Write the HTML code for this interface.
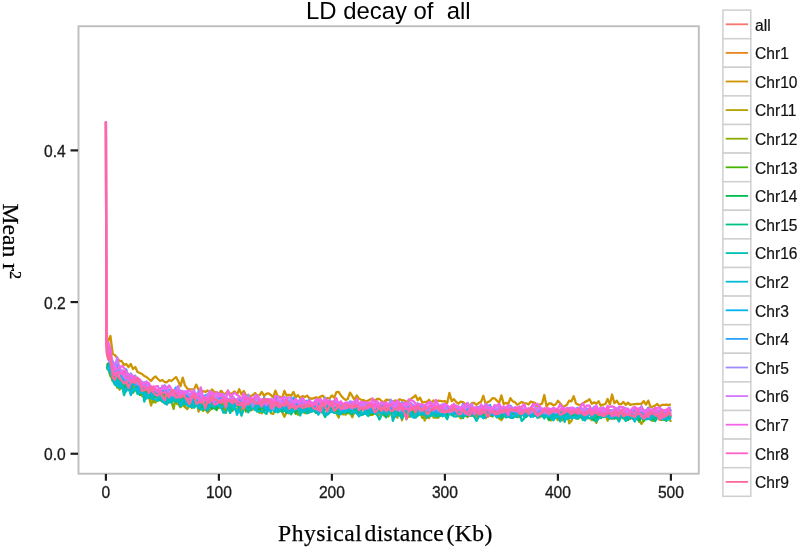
<!DOCTYPE html>
<html><head><meta charset="utf-8"><style>
html,body{margin:0;padding:0;background:#fff;}
body{width:800px;height:548px;overflow:hidden;}
svg{display:block;filter:blur(0.4px);}
.ax{font-family:"Liberation Sans",sans-serif;font-size:15.6px;fill:#1a1a1a;stroke:#1a1a1a;stroke-width:0.3px;}
.lg{font-family:"Liberation Sans",sans-serif;font-size:15.6px;fill:#111;stroke:#111;stroke-width:0.2px;}
.tk{stroke:#1e1e1e;stroke-width:2.2;}
.ttl{font-family:"Liberation Sans",sans-serif;font-size:23.9px;fill:#000;}
.st{font-family:"Liberation Serif",serif;font-size:23.6px;fill:#000;stroke:#000;stroke-width:0.25px;}
.dl polyline{fill:none;stroke-width:2.3;stroke-linejoin:round;}
</style></head><body>
<svg width="800" height="548" viewBox="0 0 800 548">
<rect x="0" y="0" width="800" height="548" fill="#fff"/>
<text x="306" y="19.3" class="ttl">LD decay of&#160; all</text>
<g class="dl">
<polyline points="106.8,357.1 108.2,355.2 110.4,360.5 112.7,364.6 114.9,368.7 117.2,369.5 119.5,373.5 121.7,377.4 124.0,375.0 126.2,375.9 128.5,379.1 130.8,379.9 133.0,380.5 135.3,379.8 137.5,382.1 139.8,384.3 142.1,382.9 144.3,385.7 146.6,385.0 148.8,387.2 151.1,387.3 153.4,389.8 155.6,388.7 157.9,391.2 160.1,391.3 162.4,391.1 164.7,388.1 166.9,391.1 169.2,392.1 171.4,392.6 173.7,390.4 176.0,392.3 178.2,392.0 180.5,392.7 182.7,395.8 185.0,393.5 187.3,395.0 189.5,396.8 191.8,395.0 194.0,396.0 196.3,396.7 198.6,397.0 200.8,395.4 203.1,397.6 205.3,399.7 207.6,395.5 209.9,399.4 212.1,398.4 214.4,397.5 216.6,401.6 218.9,399.9 221.2,397.2 223.4,399.3 225.7,400.1 227.9,399.2 230.2,400.6 232.5,399.7 234.7,400.9 237.0,402.1 239.2,399.3 241.5,400.7 243.8,399.9 246.0,400.9 248.3,399.2 250.5,400.2 252.8,400.9 255.1,402.5 257.3,402.9 259.6,399.8 261.8,400.6 264.1,402.6 266.4,399.3 268.6,401.4 270.9,402.0 273.1,403.9 275.4,403.3 277.7,402.1 279.9,402.1 282.2,402.4 284.4,404.7 286.7,402.3 289.0,402.6 291.2,403.5 293.5,403.0 295.7,403.0 298.0,401.9 300.3,403.4 302.5,402.9 304.8,405.1 307.0,404.5 309.3,403.7 311.6,404.7 313.8,403.5 316.1,405.3 318.3,404.1 320.6,404.9 322.9,402.6 325.1,404.7 327.4,402.2 329.6,401.9 331.9,404.1 334.2,403.5 336.4,404.9 338.7,407.5 340.9,403.8 343.2,404.1 345.5,405.2 347.7,405.6 350.0,404.9 352.2,404.9 354.5,406.1 356.8,405.9 359.0,404.1 361.3,405.3 363.5,405.5 365.8,404.2 368.1,405.9 370.3,404.6 372.6,406.9 374.8,406.0 377.1,406.0 379.4,405.2 381.6,405.9 383.9,403.7 386.1,404.9 388.4,406.8 390.7,403.8 392.9,407.5 395.2,404.5 397.4,407.6 399.7,405.7 402.0,407.8 404.2,407.1 406.5,405.2 408.7,408.6 411.0,408.9 413.3,407.2 415.5,407.0 417.8,407.2 420.0,406.3 422.3,408.8 424.6,407.0 426.8,407.6 429.1,406.8 431.3,407.1 433.6,406.4 435.9,409.4 438.1,407.9 440.4,409.2 442.6,408.2 444.9,407.5 447.2,408.0 449.4,407.8 451.7,408.5 453.9,408.1 456.2,408.3 458.5,407.2 460.7,407.9 463.0,410.7 465.2,408.2 467.5,407.8 469.8,409.4 472.0,410.7 474.3,407.6 476.5,409.0 478.8,408.6 481.1,407.4 483.3,410.2 485.6,409.4 487.8,409.6 490.1,408.7 492.4,410.1 494.6,409.0 496.9,409.5 499.1,408.5 501.4,408.5 503.7,411.2 505.9,409.3 508.2,410.2 510.4,409.9 512.7,409.5 515.0,409.5 517.2,410.8 519.5,409.8 521.7,410.0 524.0,410.3 526.3,411.5 528.5,411.0 530.8,410.8 533.0,409.8 535.3,409.1 537.6,411.5 539.8,411.5 542.1,410.5 544.3,411.2 546.6,411.5 548.9,411.5 551.1,411.7 553.4,410.4 555.6,412.3 557.9,409.7 560.2,411.8 562.4,411.5 564.7,411.9 566.9,412.9 569.2,412.5 571.5,410.0 573.7,409.6 576.0,412.0 578.2,410.3 580.5,411.3 582.8,412.2 585.0,409.8 587.3,409.3 589.5,411.7 591.8,411.5 594.1,411.3 596.3,411.6 598.6,410.7 600.8,410.1 603.1,411.5 605.4,410.7 607.6,410.1 609.9,412.3 612.1,411.7 614.4,412.3 616.7,410.8 618.9,411.2 621.2,410.9 623.4,411.0 625.7,412.2 628.0,411.2 630.2,412.5 632.5,412.5 634.7,414.3 637.0,410.7 639.3,413.2 641.5,412.2 643.8,412.3 646.0,410.7 648.3,411.8 650.6,413.2 652.8,412.3 655.1,412.5 657.3,412.1 659.6,413.7 661.9,412.4 664.1,410.0 666.4,411.7 668.6,410.3 670.9,408.9" stroke="#F8766D"/>
<polyline points="106.8,367.8 108.2,364.5 110.4,368.9 112.7,375.3 114.9,380.8 117.2,380.2 119.5,380.8 121.7,381.1 124.0,382.0 126.2,385.3 128.5,385.3 130.8,384.9 133.0,381.2 135.3,387.5 137.5,383.8 139.8,391.2 142.1,384.7 144.3,389.9 146.6,391.7 148.8,389.4 151.1,398.6 153.4,398.3 155.6,393.2 157.9,397.1 160.1,396.3 162.4,387.8 164.7,396.5 166.9,395.8 169.2,396.5 171.4,393.2 173.7,395.9 176.0,396.6 178.2,401.4 180.5,399.2 182.7,398.5 185.0,403.9 187.3,397.6 189.5,398.5 191.8,394.2 194.0,405.8 196.3,404.2 198.6,404.5 200.8,404.0 203.1,402.3 205.3,402.8 207.6,401.5 209.9,401.8 212.1,402.8 214.4,407.5 216.6,404.7 218.9,402.9 221.2,401.5 223.4,401.5 225.7,408.3 227.9,405.2 230.2,404.0 232.5,402.9 234.7,400.9 237.0,404.0 239.2,406.8 241.5,403.4 243.8,404.0 246.0,404.1 248.3,405.1 250.5,400.7 252.8,404.5 255.1,402.9 257.3,407.6 259.6,403.4 261.8,407.0 264.1,409.5 266.4,405.0 268.6,404.4 270.9,406.4 273.1,406.1 275.4,403.8 277.7,407.4 279.9,411.3 282.2,405.8 284.4,406.0 286.7,404.0 289.0,407.5 291.2,403.6 293.5,404.0 295.7,410.1 298.0,404.7 300.3,409.8 302.5,411.0 304.8,407.9 307.0,408.7 309.3,412.4 311.6,406.9 313.8,405.9 316.1,404.0 318.3,407.7 320.6,411.6 322.9,410.3 325.1,405.3 327.4,405.6 329.6,406.6 331.9,408.8 334.2,407.5 336.4,408.7 338.7,409.0 340.9,407.4 343.2,408.2 345.5,408.9 347.7,408.2 350.0,409.9 352.2,413.7 354.5,410.2 356.8,408.8 359.0,404.0 361.3,409.9 363.5,403.4 365.8,404.9 368.1,411.4 370.3,411.0 372.6,408.6 374.8,404.3 377.1,408.2 379.4,407.4 381.6,411.1 383.9,415.6 386.1,410.1 388.4,407.6 390.7,406.6 392.9,409.7 395.2,409.4 397.4,407.1 399.7,410.4 402.0,407.3 404.2,413.0 406.5,412.9 408.7,413.0 411.0,409.3 413.3,411.8 415.5,410.3 417.8,409.8 420.0,410.0 422.3,407.9 424.6,407.7 426.8,412.8 429.1,410.7 431.3,411.6 433.6,413.4 435.9,407.7 438.1,409.8 440.4,411.8 442.6,412.4 444.9,410.9 447.2,413.7 449.4,412.2 451.7,409.5 453.9,410.1 456.2,413.5 458.5,412.9 460.7,408.6 463.0,414.7 465.2,413.3 467.5,414.7 469.8,411.7 472.0,411.9 474.3,410.6 476.5,416.9 478.8,412.3 481.1,415.4 483.3,411.5 485.6,412.9 487.8,409.6 490.1,412.0 492.4,414.5 494.6,410.4 496.9,414.8 499.1,413.4 501.4,410.8 503.7,411.8 505.9,411.9 508.2,412.7 510.4,411.8 512.7,411.2 515.0,412.3 517.2,410.8 519.5,410.3 521.7,412.9 524.0,414.8 526.3,409.7 528.5,413.0 530.8,411.6 533.0,410.9 535.3,414.9 537.6,411.9 539.8,416.4 542.1,411.4 544.3,414.0 546.6,412.6 548.9,411.4 551.1,414.5 553.4,412.8 555.6,414.6 557.9,413.1 560.2,410.7 562.4,413.0 564.7,413.4 566.9,415.6 569.2,411.1 571.5,413.2 573.7,409.1 576.0,415.0 578.2,410.8 580.5,409.1 582.8,413.4 585.0,416.3 587.3,410.1 589.5,411.2 591.8,412.1 594.1,411.3 596.3,414.9 598.6,412.2 600.8,412.4 603.1,415.5 605.4,412.5 607.6,415.3 609.9,412.2 612.1,411.7 614.4,410.4 616.7,418.7 618.9,413.9 621.2,415.2 623.4,414.7 625.7,415.2 628.0,415.0 630.2,419.1 632.5,412.8 634.7,411.7 637.0,413.0 639.3,412.4 641.5,416.8 643.8,417.0 646.0,413.4 648.3,412.5 650.6,414.7 652.8,418.3 655.1,409.7 657.3,416.6 659.6,413.3 661.9,417.7 664.1,413.4 666.4,415.0 668.6,412.6 670.9,413.7" stroke="#E7851E"/>
<polyline points="106.8,343.0 108.2,341.0 110.4,336.0 112.7,354.0 114.9,355.0 117.2,358.0 119.5,361.0 121.7,361.0 124.0,365.0 126.2,364.0 128.5,367.0 130.8,364.0 133.0,369.0 135.3,367.0 137.5,372.0 139.8,373.0 142.1,374.0 144.3,376.0 146.6,377.0 148.8,379.0 151.1,381.0 153.4,378.0 155.6,376.5 157.9,379.0 160.1,381.0 162.4,380.0 164.7,382.0 166.9,382.3 169.2,380.0 171.4,381.0 173.7,379.0 176.0,377.0 178.2,381.0 180.5,386.2 182.7,377.6 185.0,385.4 187.3,388.7 189.5,389.3 191.8,389.4 194.0,389.6 196.3,384.6 198.6,389.8 200.8,391.1 203.1,391.0 205.3,392.0 207.6,390.5 209.9,392.5 212.1,389.4 214.4,392.4 216.6,392.1 218.9,393.6 221.2,390.8 223.4,393.8 225.7,393.6 227.9,390.9 230.2,394.1 232.5,392.9 234.7,391.4 237.0,394.8 239.2,389.1 241.5,394.5 243.8,390.9 246.0,395.2 248.3,396.2 250.5,396.1 252.8,395.2 255.1,393.0 257.3,396.3 259.6,395.0 261.8,391.9 264.1,396.0 266.4,393.6 268.6,393.3 270.9,395.0 273.1,397.5 275.4,390.6 277.7,396.5 279.9,396.6 282.2,398.4 284.4,390.9 286.7,395.7 289.0,394.9 291.2,395.8 293.5,391.9 295.7,397.4 298.0,395.1 300.3,398.3 302.5,396.1 304.8,397.1 307.0,395.6 309.3,398.1 311.6,398.9 313.8,398.1 316.1,397.2 318.3,398.2 320.6,396.5 322.9,395.7 325.1,398.7 327.4,398.0 329.6,398.5 331.9,395.4 334.2,397.8 336.4,392.2 338.7,391.9 340.9,395.5 343.2,398.1 345.5,399.8 347.7,399.2 350.0,392.6 352.2,395.9 354.5,399.9 356.8,395.4 359.0,398.9 361.3,399.8 363.5,400.1 365.8,401.5 368.1,400.6 370.3,399.2 372.6,399.8 374.8,400.5 377.1,398.9 379.4,399.0 381.6,401.0 383.9,402.4 386.1,399.7 388.4,400.0 390.7,400.4 392.9,402.0 395.2,400.3 397.4,402.3 399.7,399.2 402.0,400.3 404.2,400.4 406.5,401.7 408.7,402.2 411.0,398.9 413.3,397.3 415.5,395.3 417.8,400.3 420.0,397.6 422.3,402.6 424.6,402.0 426.8,402.1 429.1,399.8 431.3,402.9 433.6,400.4 435.9,403.2 438.1,400.6 440.4,400.8 442.6,401.3 444.9,401.1 447.2,403.0 449.4,392.9 451.7,401.1 453.9,399.1 456.2,402.0 458.5,403.7 460.7,401.7 463.0,402.1 465.2,404.2 467.5,405.7 469.8,405.4 472.0,403.0 474.3,403.0 476.5,405.0 478.8,402.9 481.1,401.8 483.3,395.8 485.6,403.7 487.8,402.1 490.1,401.0 492.4,398.2 494.6,398.3 496.9,400.6 499.1,403.1 501.4,395.4 503.7,404.1 505.9,402.9 508.2,404.0 510.4,398.2 512.7,401.4 515.0,402.1 517.2,404.9 519.5,403.4 521.7,402.0 524.0,403.1 526.3,403.3 528.5,404.5 530.8,401.5 533.0,402.3 535.3,403.1 537.6,406.9 539.8,404.5 542.1,403.6 544.3,395.0 546.6,406.4 548.9,403.5 551.1,403.3 553.4,405.4 555.6,404.5 557.9,400.8 560.2,403.2 562.4,406.4 564.7,406.1 566.9,404.7 569.2,400.6 571.5,401.3 573.7,396.2 576.0,403.5 578.2,404.6 580.5,404.9 582.8,403.6 585.0,401.9 587.3,400.9 589.5,399.2 591.8,403.7 594.1,402.3 596.3,403.8 598.6,401.2 600.8,405.8 603.1,404.6 605.4,404.0 607.6,399.0 609.9,404.4 612.1,394.5 614.4,403.2 616.7,400.7 618.9,403.8 621.2,404.3 623.4,401.9 625.7,404.9 628.0,402.6 630.2,404.9 632.5,404.4 634.7,404.2 637.0,404.0 639.3,403.9 641.5,403.8 643.8,401.1 646.0,404.6 648.3,400.6 650.6,407.3 652.8,406.5 655.1,405.7 657.3,403.9 659.6,406.7 661.9,404.8 664.1,404.8 666.4,404.6 668.6,405.1 670.9,404.4" stroke="#D09400"/>
<polyline points="106.8,366.3 108.2,365.5 110.4,374.6 112.7,381.0 114.9,380.5 117.2,380.5 119.5,389.7 121.7,384.3 124.0,382.6 126.2,388.5 128.5,390.1 130.8,386.8 133.0,393.0 135.3,389.1 137.5,388.1 139.8,393.0 142.1,396.2 144.3,392.9 146.6,397.0 148.8,396.8 151.1,405.5 153.4,396.3 155.6,402.5 157.9,398.9 160.1,399.0 162.4,401.9 164.7,402.7 166.9,404.2 169.2,401.7 171.4,399.2 173.7,399.6 176.0,403.3 178.2,404.1 180.5,407.2 182.7,404.6 185.0,407.1 187.3,409.1 189.5,405.1 191.8,400.1 194.0,401.5 196.3,401.0 198.6,411.6 200.8,403.8 203.1,410.9 205.3,408.8 207.6,412.6 209.9,410.3 212.1,406.9 214.4,406.7 216.6,407.7 218.9,408.1 221.2,406.0 223.4,407.7 225.7,412.7 227.9,402.9 230.2,408.8 232.5,405.5 234.7,408.8 237.0,410.7 239.2,408.3 241.5,410.7 243.8,404.2 246.0,411.7 248.3,407.1 250.5,410.5 252.8,409.4 255.1,402.2 257.3,407.1 259.6,409.7 261.8,413.2 264.1,410.1 266.4,410.0 268.6,405.9 270.9,413.1 273.1,414.0 275.4,409.8 277.7,409.3 279.9,405.9 282.2,412.2 284.4,416.8 286.7,412.0 289.0,413.4 291.2,411.7 293.5,408.0 295.7,413.9 298.0,407.5 300.3,410.2 302.5,411.5 304.8,413.2 307.0,412.1 309.3,412.1 311.6,409.2 313.8,407.9 316.1,411.5 318.3,409.5 320.6,408.0 322.9,408.2 325.1,410.3 327.4,406.8 329.6,408.2 331.9,407.5 334.2,412.4 336.4,413.1 338.7,417.5 340.9,408.1 343.2,410.4 345.5,414.8 347.7,411.8 350.0,411.6 352.2,417.2 354.5,411.7 356.8,409.5 359.0,409.1 361.3,413.7 363.5,413.7 365.8,409.1 368.1,410.2 370.3,414.6 372.6,414.8 374.8,411.4 377.1,415.0 379.4,414.9 381.6,408.5 383.9,412.5 386.1,414.6 388.4,412.0 390.7,407.9 392.9,412.8 395.2,415.6 397.4,417.7 399.7,408.2 402.0,420.3 404.2,411.0 406.5,416.2 408.7,416.9 411.0,416.3 413.3,414.3 415.5,411.3 417.8,415.5 420.0,412.5 422.3,408.4 424.6,420.5 426.8,415.8 429.1,418.2 431.3,412.3 433.6,417.5 435.9,417.7 438.1,417.7 440.4,414.4 442.6,412.0 444.9,414.2 447.2,410.2 449.4,411.3 451.7,414.8 453.9,412.8 456.2,414.4 458.5,414.6 460.7,418.4 463.0,417.2 465.2,414.8 467.5,417.1 469.8,413.6 472.0,414.4 474.3,416.6 476.5,412.9 478.8,414.6 481.1,412.8 483.3,415.4 485.6,418.2 487.8,413.9 490.1,415.8 492.4,413.7 494.6,413.3 496.9,413.1 499.1,418.3 501.4,420.1 503.7,416.6 505.9,414.3 508.2,417.1 510.4,415.1 512.7,417.4 515.0,416.4 517.2,416.5 519.5,417.2 521.7,414.8 524.0,415.2 526.3,412.4 528.5,415.2 530.8,413.1 533.0,415.9 535.3,414.1 537.6,416.5 539.8,417.3 542.1,413.2 544.3,414.6 546.6,414.3 548.9,418.2 551.1,420.5 553.4,418.5 555.6,415.8 557.9,420.1 560.2,413.1 562.4,420.3 564.7,415.2 566.9,410.1 569.2,423.3 571.5,420.7 573.7,414.4 576.0,417.4 578.2,416.5 580.5,417.3 582.8,413.5 585.0,415.5 587.3,418.3 589.5,417.8 591.8,420.1 594.1,417.5 596.3,422.9 598.6,415.8 600.8,418.1 603.1,413.1 605.4,414.7 607.6,420.7 609.9,415.5 612.1,418.9 614.4,417.6 616.7,415.5 618.9,417.1 621.2,416.7 623.4,416.9 625.7,419.6 628.0,419.4 630.2,416.8 632.5,416.2 634.7,418.8 637.0,418.0 639.3,420.4 641.5,423.9 643.8,420.1 646.0,418.3 648.3,418.1 650.6,416.7 652.8,416.6 655.1,416.4 657.3,417.7 659.6,417.6 661.9,420.0 664.1,417.7 666.4,418.1 668.6,416.1 670.9,421.9" stroke="#B2A100"/>
<polyline points="106.8,370.0 108.2,368.6 110.4,376.1 112.7,377.8 114.9,381.7 117.2,387.7 119.5,379.7 121.7,387.5 124.0,390.5 126.2,387.2 128.5,389.3 130.8,392.0 133.0,385.7 135.3,390.3 137.5,386.2 139.8,388.1 142.1,389.8 144.3,392.7 146.6,394.8 148.8,396.8 151.1,392.3 153.4,402.3 155.6,400.4 157.9,399.5 160.1,396.7 162.4,397.8 164.7,400.1 166.9,400.0 169.2,393.7 171.4,401.6 173.7,408.9 176.0,394.0 178.2,403.7 180.5,402.2 182.7,401.0 185.0,406.4 187.3,398.3 189.5,403.3 191.8,408.1 194.0,402.9 196.3,402.5 198.6,404.8 200.8,403.2 203.1,410.2 205.3,402.0 207.6,408.1 209.9,401.2 212.1,407.6 214.4,405.2 216.6,397.4 218.9,405.8 221.2,402.6 223.4,404.7 225.7,410.9 227.9,402.9 230.2,403.2 232.5,410.8 234.7,407.0 237.0,411.3 239.2,407.8 241.5,404.4 243.8,406.9 246.0,410.6 248.3,409.9 250.5,407.4 252.8,407.6 255.1,407.2 257.3,406.1 259.6,412.9 261.8,407.8 264.1,405.0 266.4,406.8 268.6,410.0 270.9,409.8 273.1,407.9 275.4,406.7 277.7,408.5 279.9,404.3 282.2,405.3 284.4,410.7 286.7,407.6 289.0,409.9 291.2,412.1 293.5,410.7 295.7,409.2 298.0,414.8 300.3,411.1 302.5,408.5 304.8,411.4 307.0,410.6 309.3,407.4 311.6,409.9 313.8,409.4 316.1,404.6 318.3,409.5 320.6,409.3 322.9,408.9 325.1,405.7 327.4,409.3 329.6,410.2 331.9,410.7 334.2,407.3 336.4,412.3 338.7,407.2 340.9,410.0 343.2,414.4 345.5,408.9 347.7,409.4 350.0,414.0 352.2,409.9 354.5,410.2 356.8,411.8 359.0,414.2 361.3,404.9 363.5,408.9 365.8,408.5 368.1,408.3 370.3,409.0 372.6,409.1 374.8,412.5 377.1,409.1 379.4,412.1 381.6,413.0 383.9,409.9 386.1,412.3 388.4,416.5 390.7,412.9 392.9,410.4 395.2,412.0 397.4,409.9 399.7,413.0 402.0,414.6 404.2,410.4 406.5,412.0 408.7,415.3 411.0,411.4 413.3,413.1 415.5,410.3 417.8,410.8 420.0,411.6 422.3,417.8 424.6,412.0 426.8,411.8 429.1,411.8 431.3,412.7 433.6,414.6 435.9,413.6 438.1,417.6 440.4,413.8 442.6,416.3 444.9,414.0 447.2,414.7 449.4,410.7 451.7,413.3 453.9,413.5 456.2,413.2 458.5,409.7 460.7,415.4 463.0,413.1 465.2,413.1 467.5,413.5 469.8,413.6 472.0,414.7 474.3,411.9 476.5,412.5 478.8,414.6 481.1,414.4 483.3,413.5 485.6,413.2 487.8,412.8 490.1,414.2 492.4,416.5 494.6,412.4 496.9,417.3 499.1,416.1 501.4,413.6 503.7,416.1 505.9,411.7 508.2,411.2 510.4,412.1 512.7,413.8 515.0,414.0 517.2,413.7 519.5,415.0 521.7,410.3 524.0,415.9 526.3,411.9 528.5,413.5 530.8,414.1 533.0,412.5 535.3,412.0 537.6,412.8 539.8,415.0 542.1,416.4 544.3,416.4 546.6,412.9 548.9,413.4 551.1,413.1 553.4,416.3 555.6,410.5 557.9,418.2 560.2,414.2 562.4,413.5 564.7,416.2 566.9,417.9 569.2,416.3 571.5,418.1 573.7,415.9 576.0,418.6 578.2,418.7 580.5,415.4 582.8,419.2 585.0,416.2 587.3,416.1 589.5,413.7 591.8,415.3 594.1,417.9 596.3,413.0 598.6,417.6 600.8,417.0 603.1,416.9 605.4,411.2 607.6,416.1 609.9,417.9 612.1,414.7 614.4,416.7 616.7,411.2 618.9,418.1 621.2,415.2 623.4,418.6 625.7,412.7 628.0,418.3 630.2,416.3 632.5,418.7 634.7,415.0 637.0,415.7 639.3,421.8 641.5,415.4 643.8,415.7 646.0,416.6 648.3,415.1 650.6,419.7 652.8,420.9 655.1,415.9 657.3,413.8 659.6,419.8 661.9,419.6 664.1,419.1 666.4,419.8 668.6,415.7 670.9,417.1" stroke="#89AC00"/>
<polyline points="106.8,368.3 108.2,366.8 110.4,369.9 112.7,380.4 114.9,378.9 117.2,378.4 119.5,382.7 121.7,386.7 124.0,383.5 126.2,378.1 128.5,384.7 130.8,389.1 133.0,383.1 135.3,382.8 137.5,389.9 139.8,387.9 142.1,385.3 144.3,389.2 146.6,389.5 148.8,393.9 151.1,394.2 153.4,397.4 155.6,396.6 157.9,390.4 160.1,396.4 162.4,398.1 164.7,397.1 166.9,399.1 169.2,394.6 171.4,393.6 173.7,399.7 176.0,393.8 178.2,390.8 180.5,401.4 182.7,396.2 185.0,398.0 187.3,394.8 189.5,395.5 191.8,396.4 194.0,399.4 196.3,402.2 198.6,393.7 200.8,404.3 203.1,398.0 205.3,398.6 207.6,404.5 209.9,402.2 212.1,397.7 214.4,408.6 216.6,400.2 218.9,403.8 221.2,403.8 223.4,407.7 225.7,402.2 227.9,406.7 230.2,401.6 232.5,407.2 234.7,401.9 237.0,403.2 239.2,409.7 241.5,405.4 243.8,404.9 246.0,410.9 248.3,405.8 250.5,402.8 252.8,407.0 255.1,402.1 257.3,408.3 259.6,408.6 261.8,404.1 264.1,404.1 266.4,406.2 268.6,405.9 270.9,403.6 273.1,407.5 275.4,401.2 277.7,405.2 279.9,405.4 282.2,405.8 284.4,407.3 286.7,403.5 289.0,408.1 291.2,406.3 293.5,405.2 295.7,403.4 298.0,404.0 300.3,408.0 302.5,404.7 304.8,407.4 307.0,410.0 309.3,410.0 311.6,411.5 313.8,406.7 316.1,404.7 318.3,410.3 320.6,408.5 322.9,410.7 325.1,407.8 327.4,411.1 329.6,410.2 331.9,409.9 334.2,409.4 336.4,409.2 338.7,408.8 340.9,408.9 343.2,411.0 345.5,407.0 347.7,413.2 350.0,408.2 352.2,411.3 354.5,408.4 356.8,408.0 359.0,414.4 361.3,407.9 363.5,405.3 365.8,406.9 368.1,408.1 370.3,415.1 372.6,409.6 374.8,411.8 377.1,406.4 379.4,410.3 381.6,411.2 383.9,414.4 386.1,407.7 388.4,411.2 390.7,410.5 392.9,407.2 395.2,409.9 397.4,409.3 399.7,404.2 402.0,411.6 404.2,411.6 406.5,409.2 408.7,407.2 411.0,414.0 413.3,411.2 415.5,413.0 417.8,414.0 420.0,409.6 422.3,412.7 424.6,410.4 426.8,410.9 429.1,410.9 431.3,411.2 433.6,413.6 435.9,411.6 438.1,411.1 440.4,410.9 442.6,412.2 444.9,409.8 447.2,410.7 449.4,411.7 451.7,410.7 453.9,411.7 456.2,410.8 458.5,415.8 460.7,414.6 463.0,413.0 465.2,412.2 467.5,416.2 469.8,413.0 472.0,412.3 474.3,413.0 476.5,413.1 478.8,415.0 481.1,412.6 483.3,416.4 485.6,411.1 487.8,413.9 490.1,410.9 492.4,416.1 494.6,412.1 496.9,412.6 499.1,414.5 501.4,415.2 503.7,410.6 505.9,412.1 508.2,410.1 510.4,413.1 512.7,412.7 515.0,412.2 517.2,411.5 519.5,412.1 521.7,411.4 524.0,414.1 526.3,416.2 528.5,408.9 530.8,412.8 533.0,412.1 535.3,414.1 537.6,411.0 539.8,412.8 542.1,410.8 544.3,414.7 546.6,413.4 548.9,412.8 551.1,414.0 553.4,412.6 555.6,409.6 557.9,414.6 560.2,413.9 562.4,412.9 564.7,415.6 566.9,416.2 569.2,410.6 571.5,411.4 573.7,417.2 576.0,416.9 578.2,411.6 580.5,410.6 582.8,412.0 585.0,412.5 587.3,409.9 589.5,413.9 591.8,410.8 594.1,411.1 596.3,416.1 598.6,412.5 600.8,414.0 603.1,415.6 605.4,416.1 607.6,413.5 609.9,414.5 612.1,412.6 614.4,418.4 616.7,416.0 618.9,412.2 621.2,414.7 623.4,416.3 625.7,415.9 628.0,418.9 630.2,417.9 632.5,413.8 634.7,414.9 637.0,412.4 639.3,415.7 641.5,415.6 643.8,421.0 646.0,415.6 648.3,411.1 650.6,414.1 652.8,415.7 655.1,412.9 657.3,413.7 659.6,414.8 661.9,416.3 664.1,415.2 666.4,413.8 668.6,417.2 670.9,414.6" stroke="#45B500"/>
<polyline points="106.8,365.2 108.2,363.5 110.4,373.5 112.7,374.9 114.9,379.4 117.2,382.4 119.5,380.8 121.7,383.4 124.0,379.7 126.2,388.8 128.5,388.9 130.8,386.6 133.0,380.2 135.3,383.4 137.5,391.4 139.8,394.9 142.1,391.4 144.3,395.7 146.6,391.3 148.8,393.8 151.1,395.1 153.4,396.6 155.6,391.5 157.9,398.8 160.1,400.3 162.4,393.4 164.7,393.0 166.9,398.4 169.2,395.6 171.4,390.6 173.7,400.7 176.0,399.0 178.2,397.5 180.5,406.3 182.7,400.4 185.0,398.0 187.3,401.2 189.5,397.9 191.8,399.2 194.0,403.4 196.3,400.6 198.6,401.4 200.8,408.9 203.1,406.3 205.3,406.2 207.6,405.5 209.9,405.4 212.1,408.7 214.4,404.1 216.6,410.1 218.9,401.5 221.2,403.8 223.4,400.6 225.7,403.8 227.9,406.5 230.2,409.4 232.5,403.3 234.7,405.4 237.0,404.5 239.2,403.5 241.5,402.4 243.8,406.0 246.0,401.2 248.3,406.4 250.5,406.2 252.8,404.5 255.1,403.7 257.3,402.9 259.6,411.4 261.8,403.2 264.1,410.7 266.4,408.4 268.6,406.1 270.9,404.2 273.1,409.7 275.4,411.5 277.7,405.1 279.9,406.7 282.2,410.1 284.4,408.4 286.7,412.7 289.0,406.4 291.2,409.2 293.5,404.8 295.7,413.3 298.0,406.2 300.3,402.6 302.5,407.9 304.8,408.0 307.0,413.4 309.3,407.6 311.6,408.5 313.8,410.2 316.1,412.9 318.3,408.6 320.6,411.6 322.9,410.3 325.1,408.2 327.4,409.3 329.6,409.2 331.9,406.7 334.2,412.5 336.4,405.6 338.7,412.6 340.9,412.1 343.2,409.3 345.5,407.5 347.7,409.0 350.0,411.0 352.2,411.8 354.5,410.6 356.8,412.7 359.0,408.4 361.3,410.7 363.5,405.7 365.8,412.3 368.1,410.6 370.3,409.1 372.6,413.6 374.8,412.3 377.1,402.5 379.4,410.6 381.6,406.6 383.9,413.6 386.1,417.4 388.4,409.4 390.7,411.1 392.9,410.3 395.2,412.0 397.4,412.8 399.7,414.4 402.0,408.8 404.2,415.2 406.5,409.1 408.7,412.1 411.0,414.3 413.3,413.3 415.5,409.5 417.8,410.1 420.0,410.8 422.3,411.8 424.6,414.5 426.8,409.2 429.1,413.1 431.3,413.5 433.6,413.4 435.9,413.3 438.1,415.5 440.4,413.4 442.6,414.2 444.9,413.7 447.2,416.2 449.4,408.9 451.7,415.2 453.9,412.3 456.2,412.3 458.5,411.1 460.7,409.5 463.0,412.3 465.2,411.8 467.5,414.0 469.8,410.6 472.0,415.7 474.3,413.8 476.5,412.9 478.8,412.1 481.1,412.0 483.3,411.4 485.6,412.5 487.8,413.5 490.1,413.2 492.4,410.9 494.6,413.1 496.9,411.9 499.1,413.9 501.4,417.2 503.7,414.9 505.9,413.1 508.2,410.5 510.4,410.9 512.7,410.4 515.0,415.3 517.2,412.3 519.5,414.0 521.7,412.6 524.0,414.1 526.3,416.9 528.5,412.5 530.8,413.2 533.0,412.3 535.3,415.9 537.6,411.8 539.8,411.6 542.1,411.0 544.3,410.9 546.6,415.2 548.9,420.1 551.1,411.9 553.4,416.4 555.6,414.8 557.9,411.7 560.2,413.6 562.4,413.8 564.7,412.7 566.9,419.0 569.2,409.7 571.5,415.3 573.7,415.3 576.0,413.1 578.2,414.9 580.5,416.7 582.8,415.0 585.0,415.7 587.3,416.5 589.5,410.0 591.8,418.4 594.1,420.4 596.3,417.3 598.6,417.5 600.8,411.9 603.1,414.9 605.4,413.4 607.6,414.0 609.9,417.6 612.1,413.6 614.4,415.2 616.7,411.3 618.9,415.3 621.2,415.9 623.4,414.2 625.7,414.2 628.0,419.9 630.2,413.3 632.5,413.7 634.7,414.3 637.0,418.6 639.3,420.6 641.5,416.9 643.8,414.7 646.0,415.4 648.3,418.5 650.6,414.5 652.8,419.4 655.1,419.3 657.3,416.6 659.6,417.8 661.9,418.0 664.1,419.7 666.4,414.4 668.6,418.9 670.9,415.8" stroke="#00BC51"/>
<polyline points="106.8,368.0 108.2,365.5 110.4,370.7 112.7,375.3 114.9,378.2 117.2,384.5 119.5,387.5 121.7,385.3 124.0,388.1 126.2,383.0 128.5,385.5 130.8,387.6 133.0,383.4 135.3,384.4 137.5,389.0 139.8,388.6 142.1,387.6 144.3,393.7 146.6,392.9 148.8,397.7 151.1,395.7 153.4,395.2 155.6,396.8 157.9,396.3 160.1,395.2 162.4,396.3 164.7,400.0 166.9,400.0 169.2,402.3 171.4,393.4 173.7,397.6 176.0,397.9 178.2,400.3 180.5,398.8 182.7,399.0 185.0,403.7 187.3,402.2 189.5,398.2 191.8,406.8 194.0,406.2 196.3,401.3 198.6,406.4 200.8,401.5 203.1,407.9 205.3,403.6 207.6,401.8 209.9,403.4 212.1,402.3 214.4,405.5 216.6,405.6 218.9,405.3 221.2,403.6 223.4,394.3 225.7,405.8 227.9,400.0 230.2,406.5 232.5,409.2 234.7,406.8 237.0,405.0 239.2,405.7 241.5,406.0 243.8,404.9 246.0,405.0 248.3,404.1 250.5,410.0 252.8,406.8 255.1,409.5 257.3,406.4 259.6,407.3 261.8,406.8 264.1,408.5 266.4,409.5 268.6,408.1 270.9,406.0 273.1,405.8 275.4,411.8 277.7,407.2 279.9,407.3 282.2,411.7 284.4,410.9 286.7,409.6 289.0,407.3 291.2,414.3 293.5,409.5 295.7,410.0 298.0,408.2 300.3,405.1 302.5,405.4 304.8,410.0 307.0,410.0 309.3,408.4 311.6,406.1 313.8,405.5 316.1,408.4 318.3,405.5 320.6,411.8 322.9,412.6 325.1,417.1 327.4,412.0 329.6,408.1 331.9,407.5 334.2,400.6 336.4,408.3 338.7,409.5 340.9,412.7 343.2,411.8 345.5,411.8 347.7,410.8 350.0,412.1 352.2,414.4 354.5,407.5 356.8,409.2 359.0,406.7 361.3,415.2 363.5,414.3 365.8,412.9 368.1,407.5 370.3,411.4 372.6,410.3 374.8,411.2 377.1,410.5 379.4,412.6 381.6,410.1 383.9,413.6 386.1,412.0 388.4,410.6 390.7,411.2 392.9,410.4 395.2,413.7 397.4,411.0 399.7,412.5 402.0,410.8 404.2,408.2 406.5,414.2 408.7,409.5 411.0,413.7 413.3,413.1 415.5,408.3 417.8,410.1 420.0,411.1 422.3,410.5 424.6,409.8 426.8,414.1 429.1,412.0 431.3,413.5 433.6,411.8 435.9,413.4 438.1,411.2 440.4,412.8 442.6,414.1 444.9,413.1 447.2,412.1 449.4,410.9 451.7,413.5 453.9,413.9 456.2,412.8 458.5,411.9 460.7,414.4 463.0,418.0 465.2,412.9 467.5,414.1 469.8,414.2 472.0,409.1 474.3,413.9 476.5,412.5 478.8,416.2 481.1,413.3 483.3,412.4 485.6,413.5 487.8,414.2 490.1,412.9 492.4,413.8 494.6,411.4 496.9,413.6 499.1,415.5 501.4,417.9 503.7,415.5 505.9,414.7 508.2,416.5 510.4,416.2 512.7,417.6 515.0,416.5 517.2,414.0 519.5,414.8 521.7,414.7 524.0,415.0 526.3,414.8 528.5,412.8 530.8,409.9 533.0,413.0 535.3,410.1 537.6,414.7 539.8,414.6 542.1,410.8 544.3,416.2 546.6,416.6 548.9,414.9 551.1,418.6 553.4,419.1 555.6,411.9 557.9,417.2 560.2,415.9 562.4,415.9 564.7,417.1 566.9,413.2 569.2,413.5 571.5,412.9 573.7,413.1 576.0,414.8 578.2,411.5 580.5,412.6 582.8,416.6 585.0,415.1 587.3,416.2 589.5,410.9 591.8,413.6 594.1,414.2 596.3,415.6 598.6,414.2 600.8,417.8 603.1,415.6 605.4,415.8 607.6,415.9 609.9,417.5 612.1,414.9 614.4,418.5 616.7,417.1 618.9,416.5 621.2,416.3 623.4,417.4 625.7,418.5 628.0,418.4 630.2,417.2 632.5,418.3 634.7,416.7 637.0,419.2 639.3,416.5 641.5,412.3 643.8,419.5 646.0,417.0 648.3,414.4 650.6,416.4 652.8,415.0 655.1,421.2 657.3,417.9 659.6,413.7 661.9,418.0 664.1,416.1 666.4,420.9 668.6,414.8 670.9,412.4" stroke="#00C087"/>
<polyline points="106.8,368.1 108.2,366.6 110.4,369.2 112.7,379.7 114.9,384.7 117.2,378.1 119.5,387.5 121.7,383.4 124.0,395.0 126.2,389.0 128.5,387.4 130.8,393.4 133.0,391.8 135.3,388.0 137.5,393.9 139.8,390.0 142.1,386.8 144.3,401.6 146.6,394.5 148.8,394.9 151.1,398.5 153.4,393.1 155.6,394.1 157.9,397.1 160.1,397.4 162.4,399.6 164.7,403.5 166.9,398.5 169.2,402.0 171.4,402.7 173.7,397.2 176.0,402.2 178.2,398.5 180.5,406.2 182.7,404.5 185.0,403.4 187.3,398.9 189.5,404.6 191.8,401.8 194.0,407.7 196.3,405.0 198.6,402.8 200.8,409.7 203.1,409.1 205.3,404.3 207.6,410.8 209.9,405.7 212.1,405.8 214.4,407.4 216.6,404.5 218.9,405.7 221.2,406.8 223.4,412.6 225.7,412.5 227.9,406.8 230.2,413.0 232.5,407.7 234.7,409.1 237.0,410.8 239.2,409.0 241.5,415.7 243.8,409.0 246.0,404.7 248.3,412.4 250.5,407.3 252.8,407.7 255.1,399.9 257.3,411.7 259.6,411.2 261.8,411.2 264.1,411.8 266.4,413.9 268.6,409.1 270.9,411.8 273.1,407.3 275.4,408.5 277.7,412.4 279.9,410.7 282.2,406.1 284.4,410.8 286.7,409.4 289.0,407.7 291.2,411.3 293.5,409.0 295.7,405.9 298.0,407.2 300.3,415.5 302.5,406.2 304.8,411.3 307.0,412.5 309.3,412.6 311.6,407.3 313.8,410.0 316.1,411.4 318.3,413.5 320.6,409.3 322.9,407.9 325.1,414.3 327.4,414.7 329.6,412.6 331.9,409.8 334.2,412.9 336.4,412.1 338.7,414.3 340.9,408.1 343.2,412.3 345.5,411.5 347.7,408.7 350.0,412.8 352.2,412.3 354.5,411.0 356.8,413.6 359.0,408.0 361.3,412.3 363.5,413.9 365.8,413.5 368.1,416.1 370.3,409.0 372.6,408.1 374.8,413.6 377.1,414.4 379.4,419.5 381.6,414.9 383.9,410.5 386.1,415.6 388.4,410.7 390.7,408.9 392.9,420.8 395.2,414.3 397.4,415.4 399.7,415.0 402.0,418.5 404.2,414.3 406.5,416.9 408.7,410.9 411.0,410.0 413.3,417.5 415.5,417.6 417.8,415.1 420.0,414.4 422.3,414.3 424.6,412.2 426.8,417.8 429.1,415.6 431.3,415.3 433.6,415.0 435.9,416.6 438.1,415.4 440.4,415.9 442.6,411.6 444.9,415.5 447.2,419.2 449.4,413.3 451.7,414.2 453.9,416.4 456.2,416.5 458.5,415.9 460.7,411.3 463.0,415.7 465.2,412.3 467.5,413.1 469.8,415.8 472.0,414.2 474.3,416.4 476.5,420.9 478.8,416.4 481.1,416.4 483.3,413.2 485.6,413.8 487.8,412.9 490.1,414.1 492.4,412.9 494.6,413.9 496.9,414.8 499.1,413.2 501.4,412.3 503.7,412.5 505.9,416.4 508.2,415.6 510.4,417.8 512.7,417.9 515.0,414.8 517.2,417.2 519.5,412.4 521.7,421.0 524.0,418.6 526.3,415.3 528.5,413.1 530.8,416.8 533.0,411.4 535.3,414.1 537.6,417.9 539.8,416.2 542.1,414.9 544.3,418.5 546.6,413.6 548.9,416.9 551.1,415.0 553.4,414.1 555.6,417.5 557.9,413.8 560.2,421.4 562.4,414.9 564.7,421.8 566.9,413.6 569.2,418.2 571.5,413.3 573.7,413.0 576.0,417.1 578.2,418.6 580.5,413.3 582.8,420.0 585.0,414.7 587.3,417.3 589.5,418.0 591.8,418.6 594.1,412.4 596.3,421.3 598.6,418.6 600.8,416.1 603.1,414.6 605.4,413.0 607.6,413.9 609.9,418.8 612.1,416.6 614.4,414.7 616.7,416.2 618.9,421.5 621.2,416.8 623.4,416.3 625.7,421.0 628.0,418.9 630.2,417.9 632.5,416.4 634.7,414.2 637.0,415.2 639.3,416.9 641.5,417.5 643.8,418.9 646.0,419.4 648.3,418.7 650.6,418.7 652.8,415.9 655.1,413.3 657.3,417.1 659.6,416.1 661.9,416.8 664.1,417.7 666.4,415.5 668.6,415.8 670.9,418.1" stroke="#00C0B2"/>
<polyline points="106.8,369.4 108.2,368.1 110.4,372.9 112.7,376.7 114.9,380.7 117.2,386.2 119.5,381.5 121.7,387.8 124.0,389.8 126.2,391.4 128.5,384.0 130.8,395.0 133.0,388.9 135.3,388.3 137.5,389.0 139.8,393.0 142.1,392.4 144.3,392.9 146.6,398.5 148.8,393.8 151.1,393.7 153.4,399.2 155.6,399.4 157.9,400.9 160.1,395.0 162.4,401.6 164.7,400.2 166.9,404.4 169.2,395.5 171.4,400.3 173.7,399.0 176.0,395.3 178.2,398.5 180.5,404.9 182.7,400.3 185.0,399.9 187.3,405.5 189.5,406.4 191.8,406.8 194.0,401.3 196.3,404.2 198.6,408.2 200.8,402.9 203.1,402.8 205.3,408.1 207.6,410.6 209.9,402.0 212.1,397.5 214.4,401.3 216.6,402.9 218.9,405.7 221.2,408.2 223.4,406.0 225.7,404.4 227.9,407.1 230.2,403.9 232.5,406.7 234.7,405.1 237.0,414.7 239.2,409.5 241.5,404.9 243.8,404.6 246.0,406.3 248.3,403.1 250.5,405.7 252.8,405.8 255.1,410.2 257.3,406.8 259.6,406.0 261.8,404.7 264.1,405.2 266.4,408.1 268.6,407.8 270.9,411.3 273.1,407.0 275.4,411.2 277.7,409.3 279.9,408.8 282.2,403.9 284.4,405.8 286.7,410.9 289.0,412.7 291.2,409.8 293.5,411.3 295.7,408.4 298.0,408.6 300.3,407.9 302.5,412.2 304.8,410.6 307.0,409.2 309.3,409.1 311.6,411.5 313.8,410.9 316.1,408.0 318.3,414.7 320.6,411.0 322.9,410.4 325.1,414.4 327.4,413.3 329.6,410.4 331.9,412.1 334.2,407.9 336.4,409.1 338.7,404.8 340.9,414.3 343.2,405.9 345.5,413.0 347.7,408.9 350.0,408.6 352.2,410.8 354.5,412.1 356.8,413.1 359.0,416.4 361.3,412.6 363.5,414.1 365.8,410.0 368.1,413.8 370.3,412.3 372.6,410.6 374.8,411.7 377.1,411.8 379.4,412.6 381.6,413.2 383.9,410.8 386.1,410.3 388.4,414.3 390.7,407.9 392.9,410.8 395.2,416.5 397.4,405.6 399.7,410.8 402.0,414.4 404.2,408.6 406.5,419.1 408.7,406.6 411.0,416.3 413.3,416.6 415.5,415.1 417.8,412.5 420.0,413.9 422.3,411.1 424.6,415.0 426.8,410.8 429.1,412.7 431.3,415.5 433.6,411.0 435.9,412.7 438.1,413.8 440.4,410.8 442.6,416.0 444.9,414.3 447.2,410.7 449.4,413.6 451.7,412.3 453.9,412.6 456.2,414.0 458.5,412.6 460.7,415.8 463.0,412.7 465.2,415.8 467.5,414.0 469.8,415.7 472.0,413.3 474.3,413.4 476.5,412.3 478.8,415.3 481.1,416.0 483.3,418.2 485.6,416.8 487.8,414.9 490.1,414.1 492.4,415.3 494.6,414.5 496.9,417.4 499.1,416.5 501.4,413.1 503.7,413.4 505.9,417.5 508.2,415.4 510.4,414.4 512.7,417.3 515.0,414.1 517.2,414.4 519.5,414.0 521.7,410.9 524.0,416.9 526.3,412.5 528.5,413.9 530.8,413.6 533.0,416.8 535.3,415.1 537.6,415.3 539.8,411.6 542.1,415.2 544.3,412.1 546.6,416.1 548.9,416.3 551.1,415.4 553.4,420.3 555.6,416.8 557.9,417.0 560.2,416.0 562.4,415.2 564.7,418.0 566.9,418.4 569.2,412.6 571.5,418.4 573.7,417.1 576.0,418.2 578.2,417.1 580.5,412.9 582.8,413.2 585.0,420.5 587.3,416.7 589.5,412.8 591.8,417.1 594.1,415.4 596.3,412.0 598.6,411.0 600.8,412.7 603.1,417.1 605.4,416.4 607.6,416.0 609.9,417.3 612.1,418.1 614.4,412.0 616.7,416.1 618.9,415.0 621.2,414.2 623.4,415.7 625.7,416.7 628.0,416.5 630.2,414.0 632.5,416.1 634.7,421.5 637.0,415.0 639.3,413.7 641.5,417.9 643.8,418.6 646.0,418.4 648.3,415.2 650.6,419.6 652.8,415.9 655.1,415.2 657.3,416.3 659.6,417.4 661.9,419.1 664.1,418.9 666.4,417.6 668.6,419.6 670.9,417.8" stroke="#00BCD6"/>
<polyline points="106.8,349.6 108.2,347.3 110.4,366.6 112.7,361.3 114.9,369.6 117.2,372.4 119.5,372.5 121.7,374.0 124.0,381.9 126.2,369.3 128.5,382.0 130.8,387.5 133.0,381.2 135.3,382.0 137.5,385.0 139.8,389.2 142.1,382.3 144.3,387.3 146.6,387.9 148.8,391.2 151.1,390.9 153.4,392.6 155.6,390.1 157.9,391.6 160.1,390.0 162.4,390.3 164.7,392.0 166.9,392.2 169.2,389.7 171.4,397.4 173.7,393.0 176.0,389.9 178.2,397.2 180.5,392.5 182.7,396.5 185.0,395.4 187.3,396.5 189.5,396.7 191.8,394.9 194.0,397.1 196.3,403.3 198.6,391.1 200.8,398.2 203.1,399.5 205.3,395.4 207.6,394.7 209.9,405.0 212.1,397.9 214.4,405.1 216.6,400.9 218.9,399.7 221.2,401.0 223.4,401.6 225.7,403.3 227.9,401.4 230.2,400.7 232.5,401.0 234.7,404.3 237.0,403.0 239.2,398.3 241.5,399.4 243.8,402.1 246.0,399.8 248.3,400.6 250.5,399.2 252.8,401.1 255.1,403.0 257.3,404.6 259.6,402.2 261.8,407.5 264.1,402.3 266.4,410.5 268.6,405.2 270.9,404.0 273.1,401.7 275.4,396.2 277.7,402.8 279.9,403.7 282.2,408.0 284.4,400.1 286.7,408.1 289.0,403.0 291.2,405.4 293.5,397.6 295.7,404.2 298.0,403.1 300.3,405.7 302.5,404.3 304.8,401.5 307.0,406.6 309.3,406.0 311.6,405.9 313.8,407.0 316.1,407.3 318.3,404.6 320.6,401.5 322.9,401.5 325.1,408.1 327.4,406.7 329.6,405.3 331.9,404.1 334.2,405.3 336.4,405.3 338.7,404.6 340.9,403.8 343.2,410.6 345.5,406.1 347.7,404.2 350.0,402.6 352.2,404.1 354.5,407.5 356.8,407.7 359.0,405.5 361.3,406.2 363.5,405.4 365.8,403.6 368.1,409.3 370.3,407.2 372.6,412.2 374.8,404.6 377.1,406.2 379.4,408.7 381.6,406.1 383.9,403.5 386.1,404.6 388.4,407.2 390.7,407.8 392.9,406.9 395.2,409.5 397.4,409.5 399.7,408.1 402.0,407.5 404.2,406.9 406.5,408.8 408.7,409.7 411.0,407.9 413.3,408.8 415.5,407.2 417.8,404.8 420.0,405.8 422.3,409.8 424.6,409.2 426.8,411.8 429.1,408.5 431.3,410.3 433.6,411.4 435.9,410.7 438.1,407.3 440.4,408.3 442.6,409.1 444.9,406.7 447.2,409.9 449.4,411.2 451.7,408.0 453.9,413.3 456.2,408.6 458.5,408.8 460.7,408.8 463.0,407.9 465.2,410.3 467.5,409.6 469.8,413.1 472.0,410.9 474.3,410.8 476.5,409.3 478.8,406.9 481.1,409.7 483.3,408.2 485.6,411.9 487.8,410.0 490.1,413.5 492.4,411.6 494.6,411.9 496.9,410.7 499.1,410.7 501.4,411.6 503.7,412.2 505.9,409.0 508.2,411.4 510.4,415.7 512.7,410.4 515.0,410.1 517.2,409.3 519.5,407.8 521.7,413.0 524.0,410.9 526.3,411.4 528.5,414.4 530.8,415.7 533.0,409.2 535.3,413.0 537.6,412.2 539.8,411.8 542.1,412.0 544.3,411.1 546.6,414.2 548.9,412.4 551.1,411.9 553.4,413.6 555.6,413.0 557.9,412.2 560.2,412.0 562.4,414.7 564.7,412.4 566.9,411.4 569.2,410.0 571.5,411.0 573.7,409.7 576.0,411.9 578.2,412.2 580.5,408.0 582.8,411.9 585.0,413.1 587.3,412.2 589.5,410.2 591.8,414.4 594.1,410.7 596.3,409.7 598.6,410.0 600.8,412.1 603.1,414.1 605.4,414.5 607.6,412.7 609.9,410.0 612.1,411.0 614.4,410.6 616.7,412.0 618.9,408.9 621.2,412.7 623.4,413.8 625.7,412.2 628.0,413.5 630.2,410.7 632.5,409.7 634.7,411.4 637.0,415.1 639.3,414.9 641.5,411.9 643.8,415.3 646.0,412.2 648.3,416.0 650.6,413.9 652.8,412.0 655.1,414.6 657.3,411.3 659.6,411.0 661.9,410.0 664.1,413.5 666.4,412.9 668.6,412.9 670.9,412.2" stroke="#00B3F2"/>
<polyline points="106.8,352.1 108.2,350.5 110.4,367.7 112.7,373.8 114.9,371.3 117.2,364.4 119.5,371.0 121.7,377.1 124.0,376.0 126.2,382.4 128.5,373.8 130.8,381.5 133.0,378.4 135.3,385.2 137.5,381.9 139.8,386.2 142.1,383.1 144.3,382.5 146.6,384.7 148.8,387.4 151.1,387.1 153.4,393.3 155.6,394.0 157.9,391.5 160.1,388.3 162.4,391.1 164.7,389.8 166.9,395.8 169.2,393.0 171.4,393.7 173.7,391.5 176.0,387.4 178.2,391.3 180.5,390.7 182.7,395.3 185.0,395.0 187.3,392.8 189.5,394.3 191.8,400.4 194.0,393.4 196.3,393.9 198.6,396.2 200.8,395.2 203.1,396.2 205.3,399.2 207.6,402.9 209.9,393.0 212.1,398.2 214.4,398.6 216.6,398.4 218.9,398.3 221.2,398.0 223.4,401.9 225.7,398.0 227.9,399.1 230.2,399.6 232.5,400.1 234.7,399.5 237.0,402.8 239.2,400.2 241.5,400.9 243.8,400.4 246.0,398.1 248.3,398.7 250.5,398.3 252.8,401.6 255.1,399.4 257.3,398.7 259.6,402.1 261.8,403.0 264.1,397.4 266.4,406.1 268.6,402.1 270.9,401.9 273.1,404.9 275.4,402.6 277.7,401.0 279.9,407.9 282.2,400.1 284.4,402.5 286.7,404.9 289.0,400.4 291.2,402.8 293.5,404.1 295.7,409.0 298.0,401.2 300.3,403.3 302.5,405.1 304.8,403.8 307.0,400.8 309.3,404.7 311.6,404.1 313.8,405.0 316.1,406.7 318.3,406.5 320.6,405.1 322.9,405.0 325.1,401.7 327.4,404.0 329.6,405.0 331.9,403.6 334.2,404.8 336.4,402.7 338.7,408.4 340.9,409.9 343.2,404.0 345.5,405.9 347.7,404.5 350.0,408.1 352.2,406.2 354.5,405.4 356.8,404.8 359.0,405.7 361.3,403.1 363.5,407.1 365.8,403.9 368.1,406.9 370.3,406.0 372.6,408.3 374.8,405.8 377.1,408.3 379.4,403.8 381.6,407.5 383.9,405.6 386.1,406.7 388.4,406.5 390.7,408.6 392.9,401.8 395.2,407.3 397.4,403.2 399.7,409.5 402.0,402.3 404.2,404.6 406.5,403.2 408.7,410.8 411.0,404.2 413.3,407.5 415.5,406.1 417.8,403.4 420.0,406.7 422.3,409.0 424.6,407.2 426.8,409.8 429.1,407.0 431.3,407.9 433.6,407.1 435.9,408.7 438.1,412.2 440.4,408.9 442.6,408.6 444.9,406.9 447.2,406.7 449.4,411.6 451.7,406.1 453.9,406.6 456.2,408.4 458.5,407.8 460.7,412.9 463.0,403.8 465.2,409.7 467.5,410.5 469.8,406.7 472.0,407.7 474.3,410.1 476.5,412.6 478.8,407.4 481.1,406.1 483.3,411.4 485.6,412.6 487.8,408.8 490.1,405.0 492.4,412.5 494.6,409.2 496.9,412.0 499.1,409.6 501.4,409.0 503.7,408.9 505.9,412.8 508.2,412.8 510.4,405.7 512.7,408.2 515.0,413.6 517.2,409.4 519.5,407.5 521.7,410.2 524.0,410.0 526.3,410.1 528.5,409.4 530.8,409.8 533.0,409.5 535.3,411.1 537.6,408.9 539.8,410.0 542.1,410.3 544.3,413.1 546.6,411.4 548.9,410.5 551.1,411.8 553.4,411.6 555.6,412.9 557.9,411.8 560.2,414.3 562.4,413.5 564.7,410.9 566.9,410.3 569.2,412.7 571.5,412.1 573.7,411.0 576.0,408.5 578.2,407.9 580.5,411.9 582.8,412.8 585.0,412.9 587.3,409.0 589.5,413.4 591.8,410.5 594.1,412.3 596.3,412.3 598.6,410.1 600.8,410.5 603.1,407.7 605.4,409.9 607.6,408.2 609.9,412.6 612.1,411.9 614.4,413.6 616.7,412.6 618.9,410.7 621.2,412.6 623.4,411.2 625.7,413.2 628.0,412.7 630.2,410.1 632.5,412.1 634.7,412.3 637.0,411.6 639.3,414.0 641.5,415.8 643.8,411.5 646.0,411.6 648.3,407.7 650.6,412.1 652.8,411.5 655.1,407.9 657.3,413.0 659.6,413.7 661.9,410.9 664.1,411.7 666.4,410.5 668.6,414.1 670.9,409.3" stroke="#29A3FF"/>
<polyline points="106.8,353.4 108.2,353.2 110.4,362.3 112.7,364.9 114.9,363.2 117.2,370.5 119.5,373.9 121.7,369.9 124.0,376.3 126.2,380.4 128.5,380.9 130.8,373.5 133.0,376.5 135.3,375.7 137.5,384.4 139.8,384.3 142.1,386.1 144.3,383.2 146.6,383.9 148.8,388.5 151.1,389.4 153.4,387.2 155.6,390.2 157.9,391.8 160.1,391.0 162.4,387.9 164.7,385.2 166.9,390.5 169.2,391.9 171.4,391.0 173.7,390.7 176.0,390.3 178.2,394.7 180.5,393.0 182.7,393.9 185.0,391.2 187.3,392.6 189.5,395.2 191.8,392.2 194.0,391.8 196.3,394.8 198.6,399.7 200.8,397.0 203.1,401.0 205.3,396.5 207.6,396.2 209.9,393.3 212.1,395.9 214.4,401.7 216.6,398.8 218.9,400.1 221.2,400.2 223.4,398.4 225.7,398.0 227.9,399.1 230.2,400.7 232.5,400.3 234.7,400.6 237.0,399.8 239.2,397.5 241.5,399.0 243.8,397.4 246.0,402.6 248.3,394.7 250.5,399.8 252.8,406.6 255.1,399.7 257.3,397.9 259.6,400.8 261.8,404.2 264.1,400.7 266.4,402.8 268.6,401.6 270.9,400.6 273.1,409.3 275.4,401.9 277.7,400.6 279.9,400.8 282.2,403.0 284.4,403.1 286.7,404.1 289.0,402.7 291.2,399.0 293.5,403.8 295.7,401.9 298.0,402.0 300.3,399.2 302.5,401.5 304.8,401.2 307.0,402.9 309.3,399.6 311.6,403.3 313.8,403.6 316.1,400.7 318.3,401.9 320.6,401.5 322.9,405.8 325.1,397.6 327.4,402.9 329.6,399.9 331.9,402.9 334.2,406.0 336.4,402.5 338.7,404.4 340.9,402.2 343.2,408.9 345.5,406.5 347.7,407.1 350.0,401.3 352.2,401.9 354.5,407.2 356.8,404.2 359.0,404.1 361.3,405.6 363.5,401.9 365.8,406.8 368.1,405.0 370.3,406.2 372.6,403.5 374.8,406.4 377.1,403.6 379.4,407.6 381.6,408.1 383.9,407.7 386.1,406.8 388.4,407.2 390.7,399.6 392.9,407.8 395.2,405.3 397.4,406.3 399.7,405.5 402.0,403.1 404.2,405.1 406.5,407.9 408.7,409.7 411.0,405.2 413.3,404.6 415.5,410.0 417.8,404.8 420.0,411.5 422.3,407.1 424.6,405.1 426.8,409.3 429.1,410.9 431.3,404.1 433.6,410.8 435.9,406.8 438.1,410.7 440.4,406.7 442.6,404.2 444.9,408.8 447.2,409.8 449.4,412.4 451.7,411.6 453.9,409.5 456.2,407.6 458.5,407.0 460.7,407.6 463.0,406.5 465.2,407.8 467.5,403.0 469.8,408.9 472.0,408.5 474.3,414.0 476.5,410.3 478.8,407.7 481.1,410.0 483.3,406.3 485.6,407.6 487.8,405.1 490.1,411.9 492.4,410.2 494.6,406.7 496.9,409.0 499.1,411.1 501.4,410.2 503.7,410.1 505.9,407.6 508.2,408.1 510.4,409.6 512.7,411.3 515.0,407.9 517.2,407.4 519.5,411.9 521.7,407.9 524.0,411.8 526.3,410.2 528.5,411.5 530.8,413.2 533.0,411.2 535.3,411.4 537.6,408.2 539.8,408.7 542.1,411.3 544.3,413.0 546.6,412.8 548.9,414.6 551.1,410.9 553.4,410.7 555.6,412.2 557.9,410.4 560.2,410.3 562.4,408.5 564.7,412.4 566.9,408.6 569.2,411.6 571.5,408.1 573.7,412.7 576.0,408.9 578.2,412.3 580.5,407.9 582.8,410.0 585.0,413.1 587.3,409.4 589.5,411.1 591.8,410.1 594.1,406.6 596.3,411.6 598.6,411.9 600.8,409.0 603.1,412.3 605.4,409.7 607.6,409.3 609.9,411.3 612.1,410.0 614.4,415.8 616.7,408.3 618.9,412.8 621.2,413.4 623.4,407.5 625.7,408.0 628.0,412.6 630.2,410.6 632.5,412.4 634.7,413.9 637.0,410.9 639.3,409.5 641.5,406.1 643.8,412.2 646.0,409.9 648.3,412.5 650.6,412.3 652.8,409.0 655.1,415.4 657.3,414.1 659.6,413.6 661.9,409.4 664.1,411.1 666.4,410.8 668.6,411.1 670.9,409.6" stroke="#9C8DFF"/>
<polyline points="105.9,121.6 106.5,345.0 108.2,346.0 110.4,353.0 112.7,370.0 114.9,367.6 117.2,357.4 119.5,368.2 121.7,372.1 124.0,377.1 126.2,373.8 128.5,375.3 130.8,375.1 133.0,380.4 135.3,378.0 137.5,378.4 139.8,379.4 142.1,384.6 144.3,383.1 146.6,381.5 148.8,388.9 151.1,386.3 153.4,389.4 155.6,389.7 157.9,392.2 160.1,392.1 162.4,388.1 164.7,389.4 166.9,386.6 169.2,394.9 171.4,391.8 173.7,394.7 176.0,390.3 178.2,385.9 180.5,396.3 182.7,392.7 185.0,393.2 187.3,393.4 189.5,395.4 191.8,395.5 194.0,389.7 196.3,397.8 198.6,393.4 200.8,393.9 203.1,400.6 205.3,398.4 207.6,395.0 209.9,390.9 212.1,396.8 214.4,398.1 216.6,396.5 218.9,393.5 221.2,395.0 223.4,393.9 225.7,398.1 227.9,399.9 230.2,400.6 232.5,396.1 234.7,398.8 237.0,399.8 239.2,397.2 241.5,398.3 243.8,404.4 246.0,399.5 248.3,401.4 250.5,398.2 252.8,399.6 255.1,395.2 257.3,399.7 259.6,402.9 261.8,405.3 264.1,403.1 266.4,402.0 268.6,400.5 270.9,399.1 273.1,400.3 275.4,402.3 277.7,399.0 279.9,403.3 282.2,398.7 284.4,396.9 286.7,398.8 289.0,397.3 291.2,398.1 293.5,404.3 295.7,401.2 298.0,402.3 300.3,404.6 302.5,404.9 304.8,400.8 307.0,405.3 309.3,403.1 311.6,402.3 313.8,403.4 316.1,399.0 318.3,400.6 320.6,402.3 322.9,404.1 325.1,401.8 327.4,402.5 329.6,405.2 331.9,406.3 334.2,404.9 336.4,406.1 338.7,402.2 340.9,402.5 343.2,404.1 345.5,402.7 347.7,402.3 350.0,407.4 352.2,403.1 354.5,401.4 356.8,404.9 359.0,408.1 361.3,404.1 363.5,406.8 365.8,403.0 368.1,402.9 370.3,402.5 372.6,403.8 374.8,408.6 377.1,401.6 379.4,408.3 381.6,402.2 383.9,404.1 386.1,406.7 388.4,406.3 390.7,405.5 392.9,401.2 395.2,405.9 397.4,402.8 399.7,411.1 402.0,404.8 404.2,405.8 406.5,402.9 408.7,404.5 411.0,402.8 413.3,408.0 415.5,405.2 417.8,407.2 420.0,404.5 422.3,405.0 424.6,409.0 426.8,404.1 429.1,402.3 431.3,407.3 433.6,404.0 435.9,405.6 438.1,408.6 440.4,404.9 442.6,408.7 444.9,405.4 447.2,410.1 449.4,409.9 451.7,406.1 453.9,406.7 456.2,405.4 458.5,407.7 460.7,409.8 463.0,404.4 465.2,409.4 467.5,404.8 469.8,405.8 472.0,404.0 474.3,412.2 476.5,408.0 478.8,408.4 481.1,406.6 483.3,410.2 485.6,403.7 487.8,408.2 490.1,412.7 492.4,407.5 494.6,408.3 496.9,409.7 499.1,406.8 501.4,408.5 503.7,410.4 505.9,408.9 508.2,409.3 510.4,408.0 512.7,409.3 515.0,408.9 517.2,411.7 519.5,410.3 521.7,408.4 524.0,404.2 526.3,410.4 528.5,410.5 530.8,407.3 533.0,405.3 535.3,407.0 537.6,411.0 539.8,407.3 542.1,408.5 544.3,409.8 546.6,411.8 548.9,409.4 551.1,409.3 553.4,408.5 555.6,412.7 557.9,411.7 560.2,409.5 562.4,407.2 564.7,408.3 566.9,410.9 569.2,408.6 571.5,411.6 573.7,410.6 576.0,410.6 578.2,411.2 580.5,411.0 582.8,408.5 585.0,409.5 587.3,414.5 589.5,407.9 591.8,409.3 594.1,412.3 596.3,410.0 598.6,408.8 600.8,407.8 603.1,411.4 605.4,412.4 607.6,413.2 609.9,410.6 612.1,412.6 614.4,408.5 616.7,410.9 618.9,409.3 621.2,411.0 623.4,412.2 625.7,412.8 628.0,408.7 630.2,413.3 632.5,409.8 634.7,408.7 637.0,410.5 639.3,407.9 641.5,410.9 643.8,411.5 646.0,410.5 648.3,412.1 650.6,410.3 652.8,411.0 655.1,408.0 657.3,411.1 659.6,409.3 661.9,410.1 664.1,410.9 666.4,411.5 668.6,407.7 670.9,407.9" stroke="#D277FF"/>
<polyline points="105.9,121.6 106.5,343.0 108.2,342.0 110.4,349.0 112.7,364.8 114.9,369.7 117.2,368.3 119.5,368.1 121.7,365.9 124.0,367.9 126.2,371.0 128.5,374.8 130.8,375.9 133.0,376.3 135.3,376.9 137.5,380.1 139.8,380.2 142.1,382.1 144.3,383.6 146.6,382.7 148.8,382.9 151.1,387.7 153.4,387.8 155.6,386.4 157.9,386.2 160.1,393.7 162.4,385.8 164.7,387.5 166.9,389.1 169.2,385.4 171.4,389.1 173.7,394.0 176.0,391.9 178.2,391.5 180.5,391.8 182.7,390.9 185.0,393.7 187.3,390.9 189.5,390.5 191.8,392.3 194.0,395.0 196.3,393.7 198.6,395.0 200.8,387.4 203.1,397.1 205.3,400.6 207.6,397.9 209.9,393.4 212.1,392.1 214.4,395.5 216.6,392.1 218.9,397.1 221.2,393.9 223.4,398.2 225.7,399.4 227.9,390.4 230.2,396.9 232.5,394.4 234.7,392.7 237.0,395.0 239.2,396.2 241.5,399.7 243.8,393.1 246.0,400.0 248.3,402.7 250.5,399.1 252.8,399.2 255.1,397.9 257.3,395.1 259.6,399.6 261.8,399.3 264.1,400.3 266.4,405.0 268.6,400.6 270.9,400.0 273.1,402.9 275.4,395.9 277.7,396.5 279.9,398.5 282.2,397.9 284.4,401.3 286.7,398.9 289.0,404.0 291.2,403.6 293.5,401.8 295.7,399.1 298.0,401.6 300.3,402.2 302.5,397.8 304.8,401.3 307.0,402.2 309.3,401.1 311.6,404.4 313.8,403.7 316.1,398.9 318.3,401.2 320.6,399.0 322.9,402.5 325.1,399.1 327.4,403.4 329.6,402.2 331.9,403.7 334.2,401.1 336.4,398.1 338.7,405.8 340.9,401.3 343.2,405.0 345.5,402.8 347.7,403.5 350.0,406.3 352.2,402.8 354.5,405.4 356.8,398.7 359.0,404.3 361.3,401.7 363.5,402.1 365.8,402.5 368.1,403.3 370.3,406.5 372.6,398.3 374.8,402.8 377.1,401.1 379.4,405.6 381.6,402.0 383.9,404.2 386.1,402.3 388.4,404.8 390.7,405.7 392.9,402.6 395.2,403.7 397.4,400.4 399.7,404.4 402.0,405.8 404.2,402.7 406.5,406.5 408.7,399.4 411.0,400.0 413.3,401.2 415.5,403.3 417.8,404.5 420.0,404.4 422.3,404.5 424.6,406.3 426.8,403.7 429.1,402.1 431.3,402.2 433.6,409.7 435.9,400.0 438.1,404.8 440.4,408.4 442.6,406.4 444.9,403.6 447.2,405.5 449.4,407.4 451.7,408.3 453.9,403.8 456.2,407.4 458.5,406.4 460.7,408.3 463.0,409.0 465.2,405.4 467.5,403.1 469.8,407.1 472.0,410.1 474.3,407.8 476.5,407.0 478.8,411.5 481.1,404.4 483.3,408.5 485.6,405.5 487.8,406.9 490.1,407.0 492.4,410.0 494.6,405.0 496.9,405.9 499.1,403.8 501.4,408.1 503.7,406.3 505.9,408.1 508.2,405.1 510.4,406.6 512.7,409.5 515.0,407.1 517.2,408.7 519.5,408.6 521.7,406.9 524.0,404.6 526.3,409.6 528.5,408.1 530.8,409.7 533.0,404.0 535.3,404.8 537.6,403.9 539.8,406.4 542.1,410.1 544.3,409.2 546.6,408.1 548.9,408.5 551.1,409.7 553.4,407.8 555.6,409.1 557.9,408.7 560.2,404.4 562.4,407.8 564.7,411.1 566.9,407.9 569.2,408.4 571.5,407.6 573.7,407.9 576.0,410.9 578.2,408.3 580.5,407.0 582.8,403.1 585.0,407.9 587.3,405.3 589.5,405.6 591.8,410.5 594.1,410.4 596.3,405.4 598.6,410.7 600.8,410.0 603.1,407.6 605.4,410.6 607.6,406.0 609.9,406.9 612.1,406.4 614.4,407.1 616.7,411.0 618.9,406.7 621.2,407.1 623.4,407.5 625.7,409.8 628.0,408.7 630.2,411.2 632.5,408.0 634.7,406.9 637.0,408.5 639.3,409.6 641.5,407.6 643.8,410.1 646.0,413.3 648.3,408.4 650.6,409.7 652.8,412.4 655.1,408.3 657.3,407.9 659.6,407.4 661.9,410.5 664.1,410.8 666.4,409.4 668.6,409.8 670.9,412.4" stroke="#F166E8"/>
<polyline points="105.9,121.6 106.5,347.0 108.2,348.4 110.4,363.1 112.7,369.2 114.9,374.9 117.2,372.3 119.5,372.1 121.7,374.3 124.0,370.6 126.2,378.2 128.5,377.4 130.8,382.1 133.0,378.1 135.3,381.0 137.5,380.2 139.8,381.2 142.1,387.9 144.3,386.0 146.6,389.9 148.8,386.9 151.1,391.0 153.4,386.4 155.6,390.1 157.9,390.3 160.1,393.7 162.4,392.8 164.7,392.1 166.9,395.2 169.2,393.7 171.4,394.9 173.7,395.8 176.0,393.8 178.2,393.5 180.5,395.8 182.7,394.0 185.0,396.8 187.3,399.4 189.5,399.0 191.8,395.7 194.0,393.3 196.3,397.4 198.6,397.5 200.8,401.7 203.1,397.3 205.3,398.0 207.6,401.1 209.9,397.6 212.1,398.8 214.4,404.5 216.6,404.0 218.9,401.6 221.2,400.7 223.4,397.3 225.7,401.9 227.9,400.6 230.2,401.2 232.5,399.3 234.7,400.8 237.0,400.5 239.2,402.1 241.5,405.3 243.8,402.5 246.0,397.1 248.3,399.1 250.5,397.6 252.8,399.9 255.1,403.6 257.3,403.3 259.6,400.8 261.8,403.2 264.1,400.7 266.4,399.1 268.6,399.2 270.9,400.8 273.1,406.8 275.4,399.8 277.7,406.5 279.9,406.8 282.2,403.1 284.4,403.5 286.7,402.1 289.0,403.7 291.2,405.6 293.5,404.0 295.7,406.6 298.0,407.2 300.3,405.1 302.5,405.1 304.8,404.2 307.0,405.4 309.3,401.7 311.6,405.7 313.8,405.2 316.1,402.6 318.3,410.3 320.6,402.5 322.9,402.8 325.1,405.8 327.4,400.3 329.6,403.3 331.9,401.5 334.2,403.0 336.4,405.1 338.7,406.3 340.9,408.4 343.2,407.7 345.5,408.7 347.7,407.3 350.0,404.7 352.2,408.7 354.5,404.8 356.8,404.6 359.0,410.0 361.3,408.2 363.5,406.8 365.8,408.2 368.1,408.6 370.3,403.1 372.6,406.3 374.8,403.7 377.1,407.0 379.4,405.1 381.6,410.2 383.9,408.2 386.1,405.0 388.4,407.1 390.7,404.2 392.9,407.4 395.2,408.7 397.4,408.1 399.7,402.9 402.0,406.8 404.2,408.9 406.5,408.5 408.7,410.6 411.0,404.9 413.3,409.2 415.5,406.5 417.8,408.6 420.0,409.2 422.3,409.9 424.6,407.0 426.8,408.9 429.1,405.8 431.3,405.3 433.6,409.9 435.9,408.6 438.1,405.1 440.4,406.9 442.6,409.0 444.9,412.5 447.2,411.4 449.4,410.9 451.7,405.2 453.9,409.1 456.2,410.4 458.5,410.3 460.7,410.4 463.0,409.0 465.2,413.5 467.5,412.9 469.8,409.5 472.0,407.6 474.3,414.4 476.5,408.7 478.8,412.6 481.1,414.2 483.3,408.0 485.6,410.7 487.8,409.4 490.1,411.3 492.4,410.9 494.6,414.5 496.9,411.6 499.1,410.4 501.4,412.8 503.7,409.9 505.9,409.8 508.2,415.3 510.4,408.9 512.7,409.6 515.0,410.8 517.2,408.6 519.5,406.4 521.7,413.0 524.0,409.3 526.3,409.8 528.5,410.2 530.8,409.0 533.0,408.9 535.3,411.4 537.6,416.0 539.8,412.7 542.1,412.7 544.3,408.3 546.6,411.3 548.9,409.0 551.1,412.9 553.4,411.0 555.6,411.5 557.9,411.3 560.2,410.4 562.4,408.6 564.7,412.8 566.9,409.0 569.2,409.4 571.5,411.2 573.7,410.4 576.0,412.3 578.2,413.8 580.5,412.4 582.8,412.3 585.0,412.0 587.3,413.7 589.5,408.4 591.8,412.8 594.1,410.3 596.3,409.7 598.6,412.2 600.8,411.5 603.1,413.5 605.4,414.6 607.6,407.6 609.9,412.3 612.1,416.5 614.4,414.3 616.7,415.5 618.9,412.8 621.2,409.6 623.4,410.3 625.7,414.2 628.0,414.7 630.2,411.2 632.5,412.2 634.7,413.4 637.0,409.1 639.3,412.1 641.5,416.4 643.8,417.7 646.0,412.8 648.3,417.0 650.6,411.9 652.8,411.3 655.1,408.2 657.3,415.2 659.6,412.3 661.9,418.3 664.1,413.9 666.4,413.6 668.6,409.2 670.9,416.5" stroke="#FF61C7"/>
<polyline points="105.9,121.6 106.5,352.0 108.2,359.5 110.4,355.1 112.7,377.2 114.9,379.6 117.2,373.8 119.5,378.2 121.7,380.5 124.0,383.6 126.2,381.3 128.5,387.9 130.8,382.1 133.0,381.8 135.3,383.1 137.5,377.6 139.8,384.1 142.1,390.9 144.3,390.1 146.6,388.4 148.8,392.9 151.1,387.2 153.4,392.3 155.6,394.9 157.9,395.7 160.1,391.9 162.4,397.0 164.7,400.0 166.9,393.7 169.2,397.4 171.4,391.0 173.7,390.1 176.0,397.9 178.2,396.7 180.5,397.6 182.7,395.7 185.0,397.0 187.3,400.7 189.5,403.9 191.8,398.4 194.0,394.4 196.3,403.8 198.6,402.1 200.8,402.7 203.1,401.3 205.3,408.0 207.6,401.3 209.9,402.8 212.1,395.9 214.4,399.9 216.6,399.8 218.9,401.9 221.2,403.1 223.4,400.1 225.7,407.4 227.9,399.5 230.2,401.4 232.5,403.5 234.7,399.5 237.0,404.7 239.2,405.0 241.5,402.6 243.8,408.8 246.0,403.9 248.3,404.5 250.5,401.3 252.8,399.5 255.1,402.4 257.3,403.4 259.6,403.2 261.8,406.5 264.1,398.3 266.4,401.8 268.6,400.1 270.9,408.4 273.1,403.6 275.4,403.8 277.7,402.4 279.9,407.6 282.2,404.4 284.4,406.1 286.7,400.4 289.0,408.7 291.2,406.8 293.5,407.3 295.7,409.1 298.0,405.6 300.3,405.7 302.5,408.0 304.8,407.4 307.0,405.8 309.3,406.6 311.6,405.3 313.8,408.4 316.1,409.1 318.3,406.8 320.6,411.6 322.9,403.0 325.1,406.4 327.4,411.4 329.6,406.1 331.9,403.2 334.2,410.8 336.4,408.7 338.7,404.4 340.9,409.4 343.2,405.0 345.5,404.3 347.7,407.3 350.0,406.6 352.2,405.1 354.5,407.0 356.8,405.5 359.0,408.2 361.3,408.0 363.5,410.0 365.8,407.1 368.1,405.0 370.3,405.1 372.6,407.8 374.8,412.3 377.1,410.7 379.4,407.1 381.6,411.0 383.9,405.9 386.1,411.4 388.4,408.0 390.7,410.9 392.9,410.6 395.2,408.5 397.4,410.1 399.7,406.8 402.0,409.2 404.2,412.1 406.5,419.3 408.7,411.3 411.0,409.9 413.3,407.4 415.5,412.3 417.8,406.0 420.0,408.1 422.3,410.9 424.6,407.3 426.8,413.8 429.1,412.8 431.3,409.0 433.6,409.1 435.9,407.4 438.1,407.3 440.4,411.6 442.6,412.1 444.9,411.5 447.2,411.4 449.4,409.6 451.7,411.7 453.9,407.7 456.2,411.1 458.5,414.4 460.7,414.1 463.0,410.2 465.2,410.6 467.5,414.4 469.8,415.4 472.0,408.2 474.3,410.6 476.5,412.1 478.8,414.3 481.1,409.8 483.3,413.1 485.6,411.1 487.8,417.0 490.1,412.8 492.4,411.6 494.6,411.2 496.9,414.2 499.1,413.5 501.4,409.8 503.7,412.6 505.9,409.3 508.2,410.6 510.4,409.5 512.7,409.5 515.0,410.9 517.2,410.3 519.5,413.5 521.7,414.1 524.0,412.0 526.3,410.2 528.5,414.2 530.8,408.4 533.0,408.7 535.3,414.1 537.6,414.0 539.8,414.7 542.1,412.3 544.3,410.3 546.6,411.8 548.9,414.0 551.1,411.4 553.4,411.5 555.6,410.2 557.9,410.7 560.2,414.7 562.4,414.0 564.7,410.8 566.9,411.0 569.2,412.1 571.5,414.3 573.7,411.0 576.0,413.0 578.2,409.2 580.5,410.9 582.8,414.3 585.0,415.3 587.3,411.2 589.5,412.0 591.8,415.2 594.1,412.9 596.3,412.6 598.6,414.8 600.8,414.2 603.1,416.1 605.4,415.5 607.6,412.8 609.9,413.7 612.1,413.9 614.4,411.3 616.7,412.1 618.9,416.2 621.2,410.9 623.4,416.3 625.7,414.9 628.0,414.0 630.2,415.5 632.5,415.4 634.7,417.1 637.0,413.6 639.3,414.1 641.5,414.1 643.8,418.7 646.0,416.7 648.3,412.7 650.6,414.0 652.8,413.2 655.1,414.8 657.3,415.3 659.6,419.8 661.9,410.8 664.1,417.1 666.4,415.8 668.6,413.3 670.9,414.6" stroke="#FF689E"/>
</g>
<rect x="78.5" y="26.2" width="620.3" height="447.5" fill="none" stroke="#BEBEBE" stroke-width="1.9"/>
<line x1="105.90" x2="105.90" y1="474" y2="480.7" class="tk"/><text x="105.90" y="497.6" class="ax" text-anchor="middle">0</text><line x1="218.90" x2="218.90" y1="474" y2="480.7" class="tk"/><text x="218.90" y="497.6" class="ax" text-anchor="middle">100</text><line x1="331.90" x2="331.90" y1="474" y2="480.7" class="tk"/><text x="331.90" y="497.6" class="ax" text-anchor="middle">200</text><line x1="444.90" x2="444.90" y1="474" y2="480.7" class="tk"/><text x="444.90" y="497.6" class="ax" text-anchor="middle">300</text><line x1="557.90" x2="557.90" y1="474" y2="480.7" class="tk"/><text x="557.90" y="497.6" class="ax" text-anchor="middle">400</text><line x1="670.90" x2="670.90" y1="474" y2="480.7" class="tk"/><text x="670.90" y="497.6" class="ax" text-anchor="middle">500</text>
<line x1="70.5" x2="78" y1="453.75" y2="453.75" class="tk"/><text x="65.8" y="460.35" class="ax" text-anchor="end">0.0</text><line x1="70.5" x2="78" y1="302.07" y2="302.07" class="tk"/><text x="65.8" y="308.67" class="ax" text-anchor="end">0.2</text><line x1="70.5" x2="78" y1="150.39" y2="150.39" class="tk"/><text x="65.8" y="156.99" class="ax" text-anchor="end">0.4</text>
<text x="278" y="540.5" class="st" letter-spacing="0.55">Physical</text><text x="364.6" y="540.5" class="st" letter-spacing="0.25">distance</text><text x="446.4" y="540.5" class="st" letter-spacing="0.5">(Kb)</text>
<text transform="translate(2.9,203.6) rotate(90)" class="st">Mean r<tspan dy="-7.4" font-size="16.4px">2</tspan></text>
<rect x="722.9" y="10.10" width="27.9" height="28.60" fill="#fff" stroke="#CFCFCF" stroke-width="1.5"/>
<rect x="722.9" y="38.70" width="27.9" height="28.60" fill="#fff" stroke="#CFCFCF" stroke-width="1.5"/>
<rect x="722.9" y="67.30" width="27.9" height="28.60" fill="#fff" stroke="#CFCFCF" stroke-width="1.5"/>
<rect x="722.9" y="95.90" width="27.9" height="28.60" fill="#fff" stroke="#CFCFCF" stroke-width="1.5"/>
<rect x="722.9" y="124.50" width="27.9" height="28.60" fill="#fff" stroke="#CFCFCF" stroke-width="1.5"/>
<rect x="722.9" y="153.10" width="27.9" height="28.60" fill="#fff" stroke="#CFCFCF" stroke-width="1.5"/>
<rect x="722.9" y="181.70" width="27.9" height="28.60" fill="#fff" stroke="#CFCFCF" stroke-width="1.5"/>
<rect x="722.9" y="210.30" width="27.9" height="28.60" fill="#fff" stroke="#CFCFCF" stroke-width="1.5"/>
<rect x="722.9" y="238.90" width="27.9" height="28.60" fill="#fff" stroke="#CFCFCF" stroke-width="1.5"/>
<rect x="722.9" y="267.50" width="27.9" height="28.60" fill="#fff" stroke="#CFCFCF" stroke-width="1.5"/>
<rect x="722.9" y="296.10" width="27.9" height="28.60" fill="#fff" stroke="#CFCFCF" stroke-width="1.5"/>
<rect x="722.9" y="324.70" width="27.9" height="28.60" fill="#fff" stroke="#CFCFCF" stroke-width="1.5"/>
<rect x="722.9" y="353.30" width="27.9" height="28.60" fill="#fff" stroke="#CFCFCF" stroke-width="1.5"/>
<rect x="722.9" y="381.90" width="27.9" height="28.60" fill="#fff" stroke="#CFCFCF" stroke-width="1.5"/>
<rect x="722.9" y="410.50" width="27.9" height="28.60" fill="#fff" stroke="#CFCFCF" stroke-width="1.5"/>
<rect x="722.9" y="439.10" width="27.9" height="28.60" fill="#fff" stroke="#CFCFCF" stroke-width="1.5"/>
<rect x="722.9" y="467.70" width="27.9" height="28.60" fill="#fff" stroke="#CFCFCF" stroke-width="1.5"/>
<line x1="725.7" x2="748.1" y1="24.30" y2="24.30" stroke="#F8766D" stroke-width="1.8"/>
<text x="755" y="30.50" class="lg">all</text>
<line x1="725.7" x2="748.1" y1="52.90" y2="52.90" stroke="#E7851E" stroke-width="1.8"/>
<text x="755" y="59.10" class="lg">Chr1</text>
<line x1="725.7" x2="748.1" y1="81.50" y2="81.50" stroke="#D09400" stroke-width="1.8"/>
<text x="755" y="87.70" class="lg">Chr10</text>
<line x1="725.7" x2="748.1" y1="110.10" y2="110.10" stroke="#B2A100" stroke-width="1.8"/>
<text x="755" y="116.30" class="lg">Chr11</text>
<line x1="725.7" x2="748.1" y1="138.70" y2="138.70" stroke="#89AC00" stroke-width="1.8"/>
<text x="755" y="144.90" class="lg">Chr12</text>
<line x1="725.7" x2="748.1" y1="167.30" y2="167.30" stroke="#45B500" stroke-width="1.8"/>
<text x="755" y="173.50" class="lg">Chr13</text>
<line x1="725.7" x2="748.1" y1="195.90" y2="195.90" stroke="#00BC51" stroke-width="1.8"/>
<text x="755" y="202.10" class="lg">Chr14</text>
<line x1="725.7" x2="748.1" y1="224.50" y2="224.50" stroke="#00C087" stroke-width="1.8"/>
<text x="755" y="230.70" class="lg">Chr15</text>
<line x1="725.7" x2="748.1" y1="253.10" y2="253.10" stroke="#00C0B2" stroke-width="1.8"/>
<text x="755" y="259.30" class="lg">Chr16</text>
<line x1="725.7" x2="748.1" y1="281.70" y2="281.70" stroke="#00BCD6" stroke-width="1.8"/>
<text x="755" y="287.90" class="lg">Chr2</text>
<line x1="725.7" x2="748.1" y1="310.30" y2="310.30" stroke="#00B3F2" stroke-width="1.8"/>
<text x="755" y="316.50" class="lg">Chr3</text>
<line x1="725.7" x2="748.1" y1="338.90" y2="338.90" stroke="#29A3FF" stroke-width="1.8"/>
<text x="755" y="345.10" class="lg">Chr4</text>
<line x1="725.7" x2="748.1" y1="367.50" y2="367.50" stroke="#9C8DFF" stroke-width="1.8"/>
<text x="755" y="373.70" class="lg">Chr5</text>
<line x1="725.7" x2="748.1" y1="396.10" y2="396.10" stroke="#D277FF" stroke-width="1.8"/>
<text x="755" y="402.30" class="lg">Chr6</text>
<line x1="725.7" x2="748.1" y1="424.70" y2="424.70" stroke="#F166E8" stroke-width="1.8"/>
<text x="755" y="430.90" class="lg">Chr7</text>
<line x1="725.7" x2="748.1" y1="453.30" y2="453.30" stroke="#FF61C7" stroke-width="1.8"/>
<text x="755" y="459.50" class="lg">Chr8</text>
<line x1="725.7" x2="748.1" y1="481.90" y2="481.90" stroke="#FF689E" stroke-width="1.8"/>
<text x="755" y="488.10" class="lg">Chr9</text>
</svg>
</body></html>
